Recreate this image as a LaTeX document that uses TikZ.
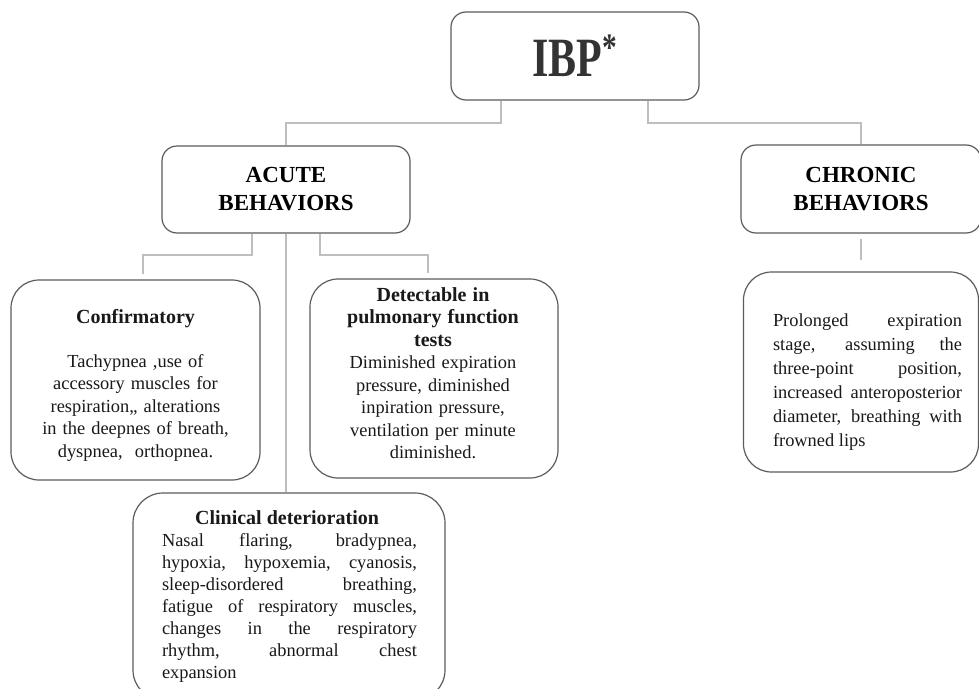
\documentclass[tikz,border=0pt]{standalone}
\usepackage{fontspec}
\setmainfont{Liberation Serif}
\usepackage{graphicx}

\definecolor{boxline}{HTML}{5C5C5C}
\definecolor{wirecol}{HTML}{BEBEBE}

\hyphenpenalty=10000
\exhyphenpenalty=10000

\newcommand{\cardtitle}[1]{{\bfseries\fontsize{15}{16.9}\selectfont #1}}

\begin{document}
\begin{tikzpicture}[x = 0.75pt, y = -0.75pt,
	box/.style = {draw = boxline, line width = 0.9pt, fill = white, rounded corners = 11.25pt},
	card/.style = {box, rounded corners = 21pt},
	head/.style = {align = center, font = \fontsize{17.25}{21}\selectfont\bfseries},
	txt/.style = {inner sep = 0pt, anchor = north, text = black!90, font = \fontsize{13.8}{16.9}\selectfont},
	conn/.style = {draw = wirecol, line width = 1.5pt}]

	\useasboundingbox (0, 0) rectangle (979, 689);

	% Headings

	\node [box, head, text = black!80, minimum width = 186pt, minimum height = 66pt] (ibp) at (575, 56)
		{\fontsize{31.5}{31.5}\selectfont\scalebox{1}[1.32]{IBP\textsuperscript{*}}};
	\node [box, head, minimum width = 186pt, minimum height = 65.25pt] (acute) at (286, 189.5) {ACUTE\\BEHAVIORS};
	\node [box, head, minimum width = 180pt, minimum height = 66pt] (chronic) at (861, 189) {CHRONIC\\BEHAVIORS};

	% Cards

	\node [card, minimum width = 186.75pt, minimum height = 150pt] (conf) at (135.5, 380) {};
	\node [card, minimum width = 186pt, minimum height = 149.25pt] (detect) at (434, 378.5) {};
	\node [card, rounded corners = 22.5pt, minimum width = 234pt, minimum height = 155.25pt] (clin) at (289, 596.5) {};
	\node [card, minimum width = 176.25pt, minimum height = 150pt] (chrdet) at (861, 372) {};

	% Card texts

	\node [txt, align = center, text width = 180pt] (confTxt) at (135.5, 309)
		{\cardtitle{Confirmatory}\\[16pt]
		Tachypnea ,use of\\
		accessory muscles for\\
		respiration,, alterations\\
		in the deepnes of breath,\\
		dyspnea,~ orthopnea.};

	\node [txt, align = center, text width = 180pt] (detectTxt) at (433, 287)
		{\cardtitle{Detectable in}\\
		\cardtitle{pulmonary function}\\
		\cardtitle{tests}\\
		Diminished expiration\\
		pressure, diminished\\
		inpiration pressure,\\
		ventilation per minute\\
		diminished.};

	\node [txt, font = \bfseries\fontsize{15}{16.9}\selectfont] (cliHead) at (287, 510) {Clinical deterioration};
	\node [txt, align = justify, text width = 191.25pt, font = \fontsize{13.8}{16.5}\selectfont] (cliBody) at (289.5, 533.4)
		{Nasal flaring, bradypnea,\linebreak
		hypoxia, hypoxemia, cyanosis,\linebreak
		sleep-disordered breathing,\linebreak
		fatigue of respiratory muscles,\linebreak
		changes in the respiratory\linebreak
		rhythm, abnormal chest\linebreak
		expansion};

	\node [txt, align = justify, text width = 141.75pt, font = \fontsize{13.8}{18}\selectfont] (chrdetTxt) at (867.5, 313)
		{Prolonged expiration\linebreak
		stage, assuming the\linebreak
		three-point position,\linebreak
		increased anteroposterior\linebreak
		diameter, breathing with\linebreak
		frowned lips};

	% Connectors

	\begin{scope}[conn]

		\draw ([xshift = -55.5pt] ibp.south) -- ++(0, 22) -| (acute.north);
		\draw ([xshift = 54.75pt] ibp.south) -- ++(0, 22) -| (chronic.north);
		\draw ([xshift = -25.5pt] acute.south) -- ++(0, 21) -| ([xshift = 5.625pt, yshift = 3.75pt] conf.north);
		\draw ([xshift = 25.5pt] acute.south) -- ++(0, 21) -| ([xshift = -4.5pt, yshift = 3.75pt] detect.north);
		\draw (acute.south) -- (acute.south |- clin.north);
		\draw ([yshift = -3.75pt] chronic.south) -- ([yshift = 8.25pt] chrdet.north);

	\end{scope}

\end{tikzpicture}
\end{document}
